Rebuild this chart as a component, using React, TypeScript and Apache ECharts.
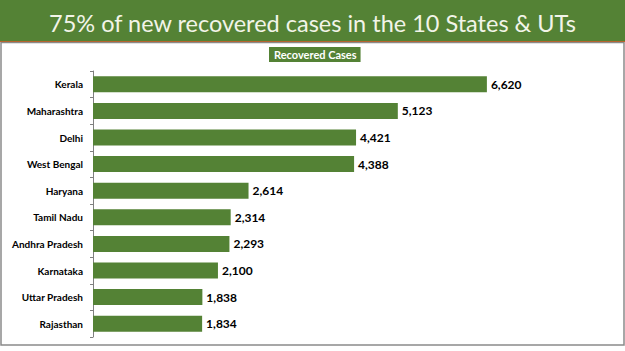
import React, { useEffect, useRef } from "react";
import * as echarts from "echarts";

const titleText = "75% of new recovered cases in the 10 States & UTs";
const seriesName = "Recovered Cases";
const states = [
  "Kerala",
  "Maharashtra",
  "Delhi",
  "West Bengal",
  "Haryana",
  "Tamil Nadu",
  "Andhra Pradesh",
  "Karnataka",
  "Uttar Pradesh",
  "Rajasthan",
];
const recovered = [6620, 5123, 4421, 4388, 2614, 2314, 2293, 2100, 1838, 1834];

const GREEN = "#548235";

export default function App() {
  const ref = useRef<HTMLDivElement>(null);
  useEffect(() => {
    if (!ref.current) return;
    const chart = echarts.init(ref.current, null, { renderer: "svg" });
    chart.setOption({
      animation: false,
      backgroundColor: "#ffffff",
      title: {
        text: titleText,
        left: "center",
        top: 6,
        textStyle: {
          color: "#f2f4e8",
          fontFamily: "Lato",
          fontWeight: "normal",
          fontSize: 23.5,
        },
      },
      legend: {
        data: [seriesName],
        top: 47,
        left: 269,
        backgroundColor: GREEN,
        padding: [2, 4, 2, 0],
        itemWidth: 0,
        itemHeight: 0,
        itemGap: 0,
        icon: "rect",
        borderRadius: 0,
        textStyle: {
          color: "#ffffff",
          fontFamily: "Lato",
          fontWeight: "bold",
          fontSize: 11,
          padding: [1, 0, 0, 0],
        },
      },
      graphic: [
        {
          type: "rect",
          shape: { x: 0, y: 0, width: 625, height: 41 },
          style: { fill: GREEN },
          z: -10,
        },
        {
          type: "line",
          shape: { x1: 0, y1: 41.5, x2: 625, y2: 41.5 },
          style: { stroke: "#c55a11", lineWidth: 1.2 },
          z: -9,
        },
        {
          type: "rect",
          shape: { x: 1, y: 42.5, width: 623, height: 302.5 },
          style: { fill: "none", stroke: "#8a8a8a", lineWidth: 1.5 },
          z: -9,
        },
      ],
      grid: {
        left: 93,
        top: 71,
        height: 266,
        right: 56,
        containLabel: false,
      },
      xAxis: {
        type: "value",
        min: 0,
        max: 8000,
        show: false,
      },
      yAxis: {
        type: "category",
        data: states,
        inverse: true,
        axisLine: { show: true, lineStyle: { color: "#808080", width: 1 } },
        axisTick: {
          show: true,
          length: 3,
          lineStyle: { color: "#808080" },
        },
        axisLabel: {
          margin: 10,
          color: "#000000",
          fontFamily: "Lato",
          fontWeight: "bold",
          fontSize: 10,
        },
      },
      series: [
        {
          name: seriesName,
          type: "bar",
          data: recovered,
          barWidth: "60%",
          itemStyle: { color: GREEN },
          label: {
            show: true,
            position: "right",
            distance: 4,
            color: "#000000",
            fontFamily: "Lato",
            fontWeight: "bold",
            fontSize: 12,
            formatter: (p: any) => Number(p.value).toLocaleString("en-US"),
          },
        },
      ],
    });
    return () => chart.dispose();
  }, []);
  return (
    <div
      ref={ref}
      style={{ position: "absolute", left: 0, top: 0, width: 625, height: 351 }}
    />
  );
}
